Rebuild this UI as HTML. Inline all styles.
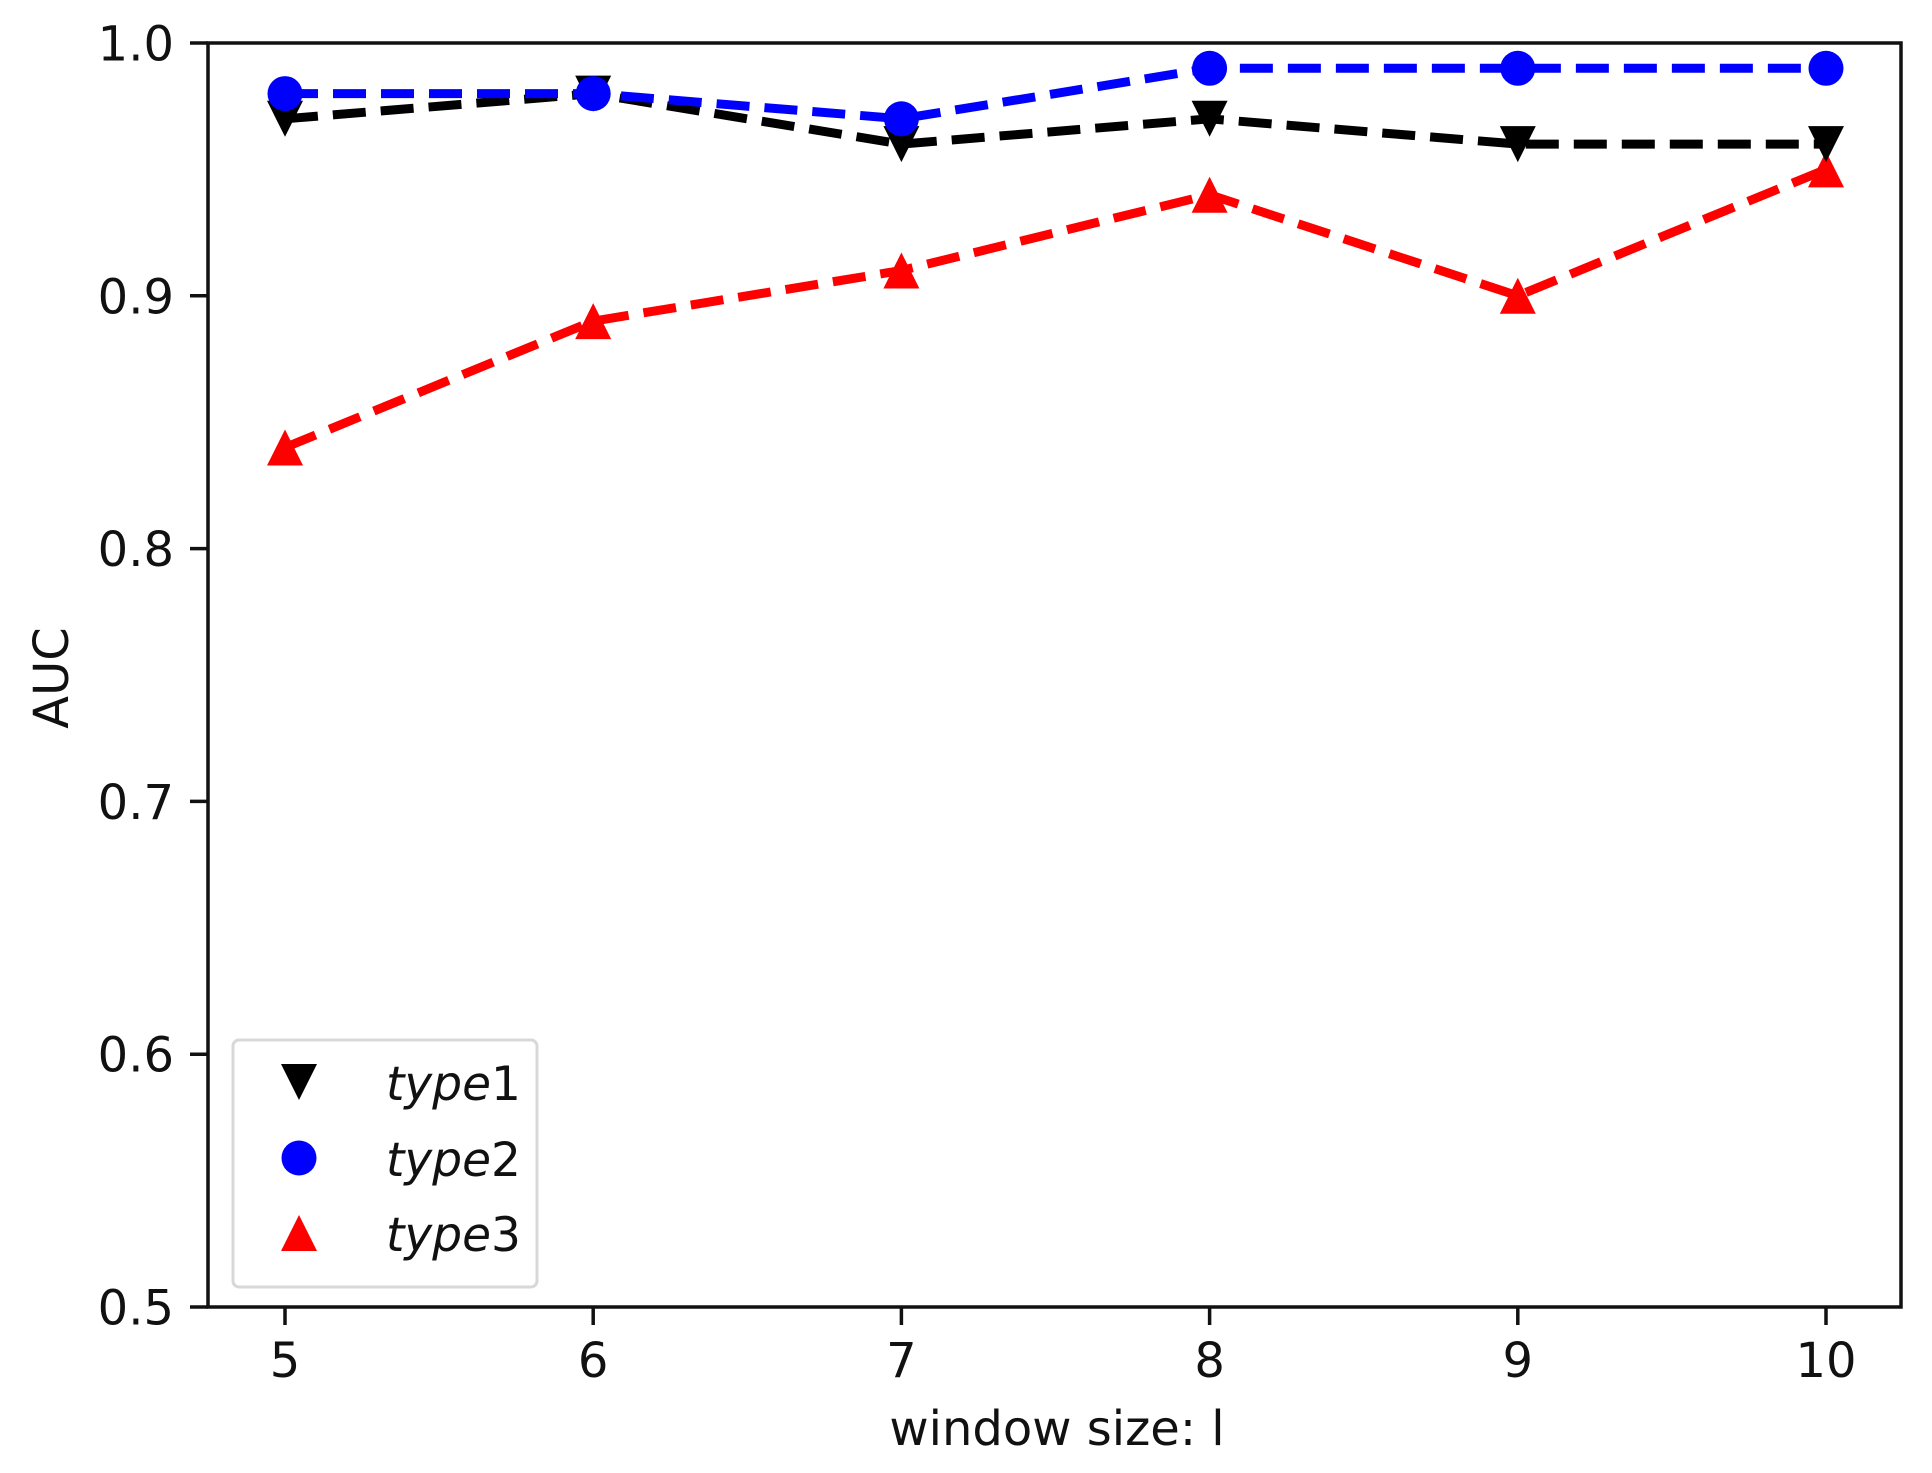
<!DOCTYPE html>
<html><head><meta charset="utf-8"><style>
html,body{margin:0;padding:0;background:#fff;}
svg{display:block;}
text{font-family:"DejaVu Sans","Liberation Sans",sans-serif;fill:#111;}
</style></head><body>
<svg width="1932" height="1473" viewBox="0 0 1932 1473" xmlns="http://www.w3.org/2000/svg">
<rect width="1932" height="1473" fill="#fff"/>
<g fill="none" stroke-width="9" stroke-dasharray="33,15">
<polyline stroke="#ff0000" points="285,447.5 593.2,321.1 901.4,270.5 1209.6,194.7 1517.8,295.8 1826,169.4"/>
<polyline stroke="#000" points="285,118.8 593.2,93.6 901.4,144.1 1209.6,118.8 1517.8,144.1 1826,144.1"/>
<polyline stroke="#0000ff" points="285,93.6 593.2,93.6 901.4,118.8 1209.6,68.3 1517.8,68.3 1826,68.3"/>
</g>
<g fill="#ff0000">
<polygon points="285,429.5 267,465.5 303,465.5"/>
<polygon points="593.2,303.1 575.2,339.1 611.2,339.1"/>
<polygon points="901.4,252.5 883.4,288.5 919.4,288.5"/>
<polygon points="1209.6,176.7 1191.6,212.7 1227.6,212.7"/>
<polygon points="1517.8,277.8 1499.8,313.8 1535.8,313.8"/>
<polygon points="1826,151.4 1808,187.4 1844,187.4"/>
</g>
<g fill="#000">
<polygon points="285,136.8 267,100.8 303,100.8"/>
<polygon points="593.2,111.6 575.2,75.6 611.2,75.6"/>
<polygon points="901.4,162.1 883.4,126.1 919.4,126.1"/>
<polygon points="1209.6,136.8 1191.6,100.8 1227.6,100.8"/>
<polygon points="1517.8,162.1 1499.8,126.1 1535.8,126.1"/>
<polygon points="1826,162.1 1808,126.1 1844,126.1"/>
</g>
<g fill="#0000ff">
<circle cx="285" cy="93.6" r="17.5"/>
<circle cx="593.2" cy="93.6" r="17.5"/>
<circle cx="901.4" cy="118.8" r="17.5"/>
<circle cx="1209.6" cy="68.3" r="17.5"/>
<circle cx="1517.8" cy="68.3" r="17.5"/>
<circle cx="1826" cy="68.3" r="17.5"/>
</g>
<rect x="208" y="43" width="1693" height="1264" fill="none" stroke="#111" stroke-width="3.5"/>
<g stroke="#111" stroke-width="3.5">
<line x1="190" y1="43" x2="208" y2="43"/>
<line x1="190" y1="295.8" x2="208" y2="295.8"/>
<line x1="190" y1="548.6" x2="208" y2="548.6"/>
<line x1="190" y1="801.4" x2="208" y2="801.4"/>
<line x1="190" y1="1054.2" x2="208" y2="1054.2"/>
<line x1="190" y1="1307" x2="208" y2="1307"/>
<line x1="285" y1="1307" x2="285" y2="1325"/>
<line x1="593.2" y1="1307" x2="593.2" y2="1325"/>
<line x1="901.4" y1="1307" x2="901.4" y2="1325"/>
<line x1="1209.6" y1="1307" x2="1209.6" y2="1325"/>
<line x1="1517.8" y1="1307" x2="1517.8" y2="1325"/>
<line x1="1826" y1="1307" x2="1826" y2="1325"/>
</g>
<g font-size="48" text-anchor="end">
<text x="174" y="60.5">1.0</text>
<text x="174" y="313.3">0.9</text>
<text x="174" y="566.1">0.8</text>
<text x="174" y="818.9">0.7</text>
<text x="174" y="1071.7">0.6</text>
<text x="174" y="1324.5">0.5</text>
</g>
<g font-size="48" text-anchor="middle">
<text x="285" y="1377">5</text>
<text x="593.2" y="1377">6</text>
<text x="901.4" y="1377">7</text>
<text x="1209.6" y="1377">8</text>
<text x="1517.8" y="1377">9</text>
<text x="1826" y="1377">10</text>
<text x="1057" y="1445">window size: l</text>
<text x="0" y="0" transform="translate(68,678) rotate(-90)">AUC</text>
</g>
<rect x="233" y="1040" width="304" height="247" rx="6" fill="#fff" stroke="#d8d8d8" stroke-width="3"/>
<polygon points="299,1100 281,1064 317,1064" fill="#000"/>
<circle cx="299" cy="1158" r="17.5" fill="#0000ff"/>
<polygon points="299,1215 281,1251 317,1251" fill="#ff0000"/>
<g font-size="47">
<text x="386" y="1100"><tspan font-style="italic">type</tspan>1</text>
<text x="386" y="1176"><tspan font-style="italic">type</tspan>2</text>
<text x="386" y="1251"><tspan font-style="italic">type</tspan>3</text>
</g>
</svg>
</body></html>
